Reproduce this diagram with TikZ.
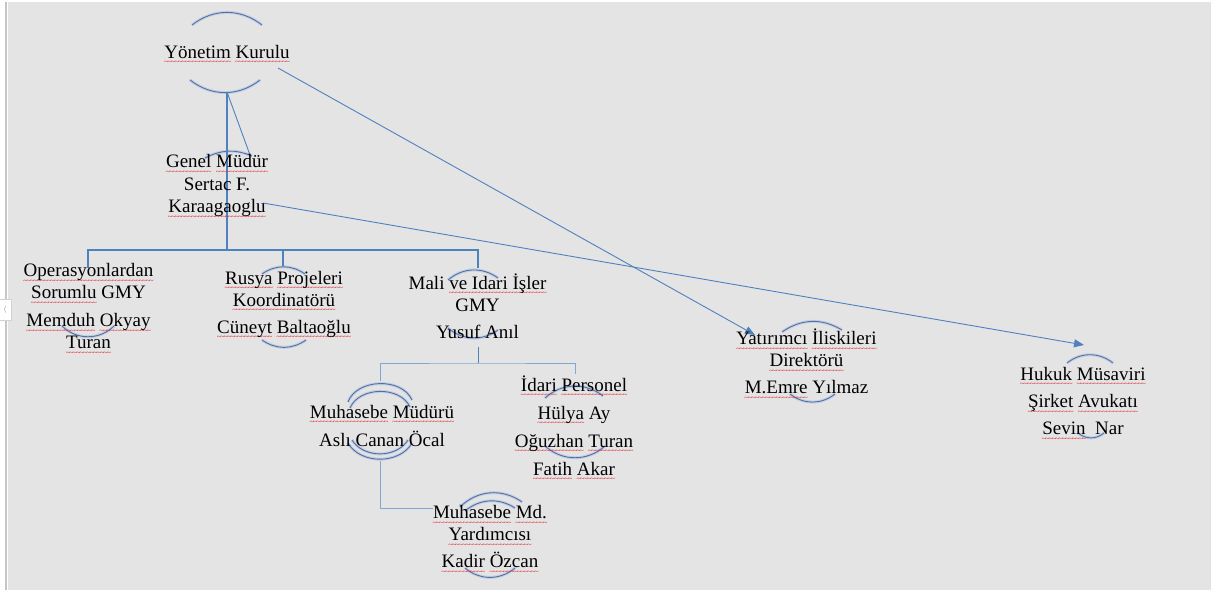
\documentclass[tikz,border=0pt]{standalone}
\usepackage{fontspec}
\setmainfont{Liberation Serif}
\newfontfamily\orgfont{Liberation Serif}
\usetikzlibrary{arrows.meta}

\definecolor{linkblue}{HTML}{4F81BD}
\definecolor{ringdark}{HTML}{5C6E96}
\definecolor{ringlight}{HTML}{BFD0EA}
\definecolor{sheet}{HTML}{E4E4E4}
\definecolor{squig}{HTML}{E0202A}

\newsavebox{\sqbox}
\newcommand{\sq}[1]{\sbox{\sqbox}{#1}\rlap{\raisebox{-6.5pt}[0pt][0pt]{\textcolor{squig}{\makebox[\wd\sqbox]{\xleaders\hbox{\fontsize{8}{8}\selectfont\kern-0.5pt\char"7E\kern-0.5pt}\hfill}}}}\usebox{\sqbox}}

\tikzset{
    lbl/.style={align=center, inner sep=0pt, text=black, font=\orgfont\fontsize{19}{22}\selectfont},
    link/.style={draw=linkblue, line width=1.2pt},
    tip/.style={-{Triangle[length=10pt,width=8pt]}},
    ringlo/.style={draw=ringlight, line width=3pt},
    ringhi/.style={draw=ringdark, line width=0.9pt},
}

\begin{document}
\begin{tikzpicture}[x=1pt, y=-1pt]

    \useasboundingbox (0, 0) rectangle (1220, 593);
    \fill[sheet] (8, 2) rectangle (1211, 590);
    \fill[gray!45] (5, 2) rectangle (7, 590);
    \draw[gray!35, fill=white] (-1, 299) rectangle (11, 320);
    \node[text=gray, font=\scriptsize] (tab) at (5, 309.5) {$\langle$};

    \foreach \xa/\ya/\xb/\yb/\bd in {
            192/25/262/25/38, 190/80/260/80/-38,
            205/158/252/156/25,
            62/326/114/326/-45,
            262/274/305/274/35, 262/340/306/340/-35,
            448/280/498/278/38, 448/328/498/330/-38,
            348/402/412/400/68, 350/408/410/407/66,
            348/443/412/443/-60, 352/440/408/440/-58,
            545/398/603/396/40, 545/446/605/446/-42,
            460/507/522/502/40, 465/511/515/508/36,
            465/568/515/568/-40,
            782/332/842/330/33, 790/394/835/394/-38,
            1067/363/1113/363/38, 1078/433/1104/433/-40} {
            \draw[ringlo] (\xa, \ya) to[bend left=\bd] (\xb, \yb);
            \draw[ringhi] (\xa, \ya) to[bend left=\bd] (\xb, \yb);
        }

    \coordinate (ykB) at (227, 92);
    \coordinate (ykE) at (278, 68);
    \coordinate (gmA) at (250, 155);
    \coordinate (gmE) at (263, 203);
    \coordinate (gmJ) at (227, 250);
    \coordinate (opT) at (88, 268);
    \coordinate (ruT) at (283, 266);
    \coordinate (maT) at (478, 268);
    \coordinate (maB) at (478, 347);
    \coordinate (maJ) at (478, 363);
    \coordinate (mmT) at (380, 381);
    \coordinate (mmB) at (380, 461);
    \coordinate (ipT) at (575, 374);
    \coordinate (mdL) at (433, 508);
    \coordinate (ytA) at (755, 335);
    \coordinate (hkA) at (1084, 345);

    \draw[link] (ykB) -- (gmJ);
    \draw[link, line width=0.9pt] (ykB) -- (gmA);
    \draw[link] (opT) |- (gmJ) -| (maT);
    \draw[link] (ruT) -- (ruT |- gmJ);
    \draw[link, line width=0.9pt] (maB) -- (maJ);
    \draw[link, line width=0.9pt, draw=linkblue!70] (mmT) |- (maJ) -| (ipT);
    \draw[link, line width=0.9pt, draw=linkblue!70] (mmB) |- (mdL);
    \draw[link, line width=0.9pt, tip] (ykE) -- (ytA);
    \draw[link, line width=0.9pt, tip] (gmE) -- (hkA);

    \node[lbl] (yk) at (227, 52) {\sq{Yönetim} \sq{Kurulu}};
    \node[lbl] (gm) at (217, 185.5) {\sq{Genel} \sq{Müdür}\\[1pt] Sertac F.\\ \sq{Karaagaoglu}};
    \node[lbl] (op) at (88.5, 306.5) {\sq{Operasyonlardan}\\ \sq{Sorumlu} GMY\\[6pt] \sq{Memduh} \sq{Okyay}\\ \sq{Turan}};
    \node[lbl] (ru) at (284, 304) {\sq{Rusya} \sq{Projeleri}\\ \sq{Koordinatörü}\\[5pt] \sq{Cüneyt} \sq{Baltaoğlu}};
    \node[lbl] (ma) at (477.5, 306) {Mali \sq{ve Idari İşler}\\ GMY\\[5pt] Yusuf Anıl};
    \node[lbl] (mm) at (382, 426) {\sq{Muhasebe} \sq{Müdürü}\\[6pt] Aslı Canan Öcal};
    \node[lbl] (ip) at (574, 425.5) {\sq{İdari} \sq{Personel}\\[6pt] \sq{Hülya} Ay\\[6pt] \sq{Oğuzhan} \sq{Turan}\\[6pt] \sq{Fatih} \sq{Akar}};
    \node[lbl] (md) at (490, 536.5) {\sq{Muhasebe} \sq{Md.}\\ \sq{Yardımcısı}\\[5pt] \sq{Kadir} \sq{Özcan}};
    \node[lbl] (yt) at (806.5, 361.5) {\sq{Yatırımcı} \sq{İliskileri}\\ \sq{Direktörü}\\[5pt] \sq{M.Emre} Yılmaz};
    \node[lbl] (hk) at (1083, 401) {\sq{Hukuk} \sq{Müsaviri}\\[5pt] \sq{Şirket} \sq{Avukatı}\\[5pt] \sq{Sevin}~ Nar};

\end{tikzpicture}
\end{document}
